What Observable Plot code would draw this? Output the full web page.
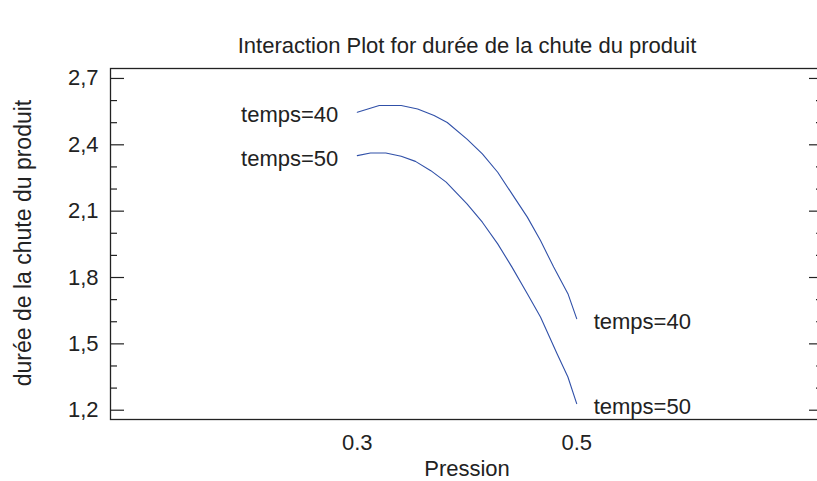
<!DOCTYPE html>
<html>
<head>
<meta charset="utf-8">
<script src="https://cdn.jsdelivr.net/npm/d3@7"></script>
<script src="https://cdn.jsdelivr.net/npm/@observablehq/plot@0.6"></script>
<style>
  html, body { margin: 0; padding: 0; background: #fff; overflow: hidden; }
</style>
</head>
<body>
<div id="chart"></div>
<script>
// ---- data ----
const pression40 = [0.300, 0.320, 0.340, 0.355, 0.370, 0.382, 0.400, 0.414, 0.428, 0.441, 0.455, 0.467, 0.479, 0.492, 0.500];
const duree40    = [2.547, 2.578, 2.578, 2.562, 2.532, 2.501, 2.426, 2.359, 2.276, 2.178, 2.073, 1.967, 1.847, 1.727, 1.614];
const pression50 = [0.300, 0.312, 0.326, 0.340, 0.353, 0.367, 0.381, 0.400, 0.414, 0.428, 0.441, 0.455, 0.467, 0.482, 0.492, 0.500];
const duree50    = [2.351, 2.363, 2.363, 2.348, 2.325, 2.283, 2.231, 2.133, 2.050, 1.952, 1.847, 1.727, 1.621, 1.456, 1.350, 1.230];
const seriesNames = ["temps=40", "temps=50"];
const yMajorTicks = [1.2, 1.5, 1.8, 2.1, 2.4, 2.7];
const yMinorTicks = [1.3, 1.4, 1.6, 1.7, 1.9, 2.0, 2.2, 2.3, 2.5, 2.6];
const xTicks = [0.3, 0.5];
const title = "Interaction Plot for durée de la chute du produit";
const xLabel = "Pression";
const yLabel = "durée de la chute du produit";

// ---- build tables ----
const s40 = pression40.map((p, i) => ({pression: p, duree: duree40[i], serie: seriesNames[0]}));
const s50 = pression50.map((p, i) => ({pression: p, duree: duree50[i], serie: seriesNames[1]}));
const curves = [...s40, ...s50];
const firsts = [s40[0], s50[0]];
const lasts = [s40[s40.length - 1], s50[s50.length - 1]];

const W = 817, H = 481;
const mL = 110, mR = -6, mT = 68, mB = 62;
const plotW = W - mL - mR;
const ink = "#222";
const blue = "#3050a8";
const fs = 22;
const comma = d => d.toFixed(1).replace(".", ",");

const chart = Plot.plot({
  width: W,
  height: H,
  marginLeft: mL,
  marginRight: mR,
  marginTop: mT,
  marginBottom: mB,
  style: {fontFamily: "'Liberation Sans', Arial, sans-serif", fontSize: fs + "px", color: ink, background: "#fff", overflow: "hidden"},
  x: {domain: [0.075, 0.725]},
  y: {domain: [1.158, 2.745]},
  marks: [
    Plot.frame({stroke: ink, strokeWidth: 1.3}),
    // left ticks (inward)
    Plot.tickY(yMajorTicks, {y: d => d, insetRight: plotW - 14, stroke: ink, strokeWidth: 1.2}),
    Plot.tickY(yMinorTicks, {y: d => d, insetRight: plotW - 7, stroke: ink, strokeWidth: 1.2}),
    // right ticks (inward)
    Plot.tickY(yMajorTicks, {y: d => d, insetLeft: plotW - 14, stroke: ink, strokeWidth: 1.2}),
    Plot.tickY(yMinorTicks, {y: d => d, insetLeft: plotW - 7, stroke: ink, strokeWidth: 1.2}),
    Plot.axisY({ticks: yMajorTicks, tickSize: 0, tickPadding: 12, tickFormat: comma, label: null, fill: ink}),
    Plot.axisX({ticks: xTicks, tickSize: 0, tickPadding: 15, tickFormat: d => d.toFixed(1), label: null, fill: ink}),
    Plot.lineY(curves, {x: "pression", y: "duree", z: "serie", stroke: blue, strokeWidth: 1.1}),
    Plot.text(firsts, {x: "pression", y: "duree", text: "serie", textAnchor: "end", dx: -19, dy: 3, fill: ink}),
    Plot.text(lasts, {x: "pression", y: "duree", text: "serie", textAnchor: "start", dx: 17, dy: 3, fill: ink}),
    Plot.text([title], {frameAnchor: "top", text: d => d, lineAnchor: "top", dy: -31, fill: ink}),
    Plot.text([xLabel], {frameAnchor: "bottom", text: d => d, lineAnchor: "top", dy: 41, fill: ink}),
    Plot.text([yLabel], {frameAnchor: "left", text: d => d, rotate: -90, textAnchor: "middle", lineAnchor: "top", dx: -96, dy: -1, fontSize: 23, fill: ink})
  ]
});
document.getElementById("chart").appendChild(chart);
</script>
</body>
</html>
